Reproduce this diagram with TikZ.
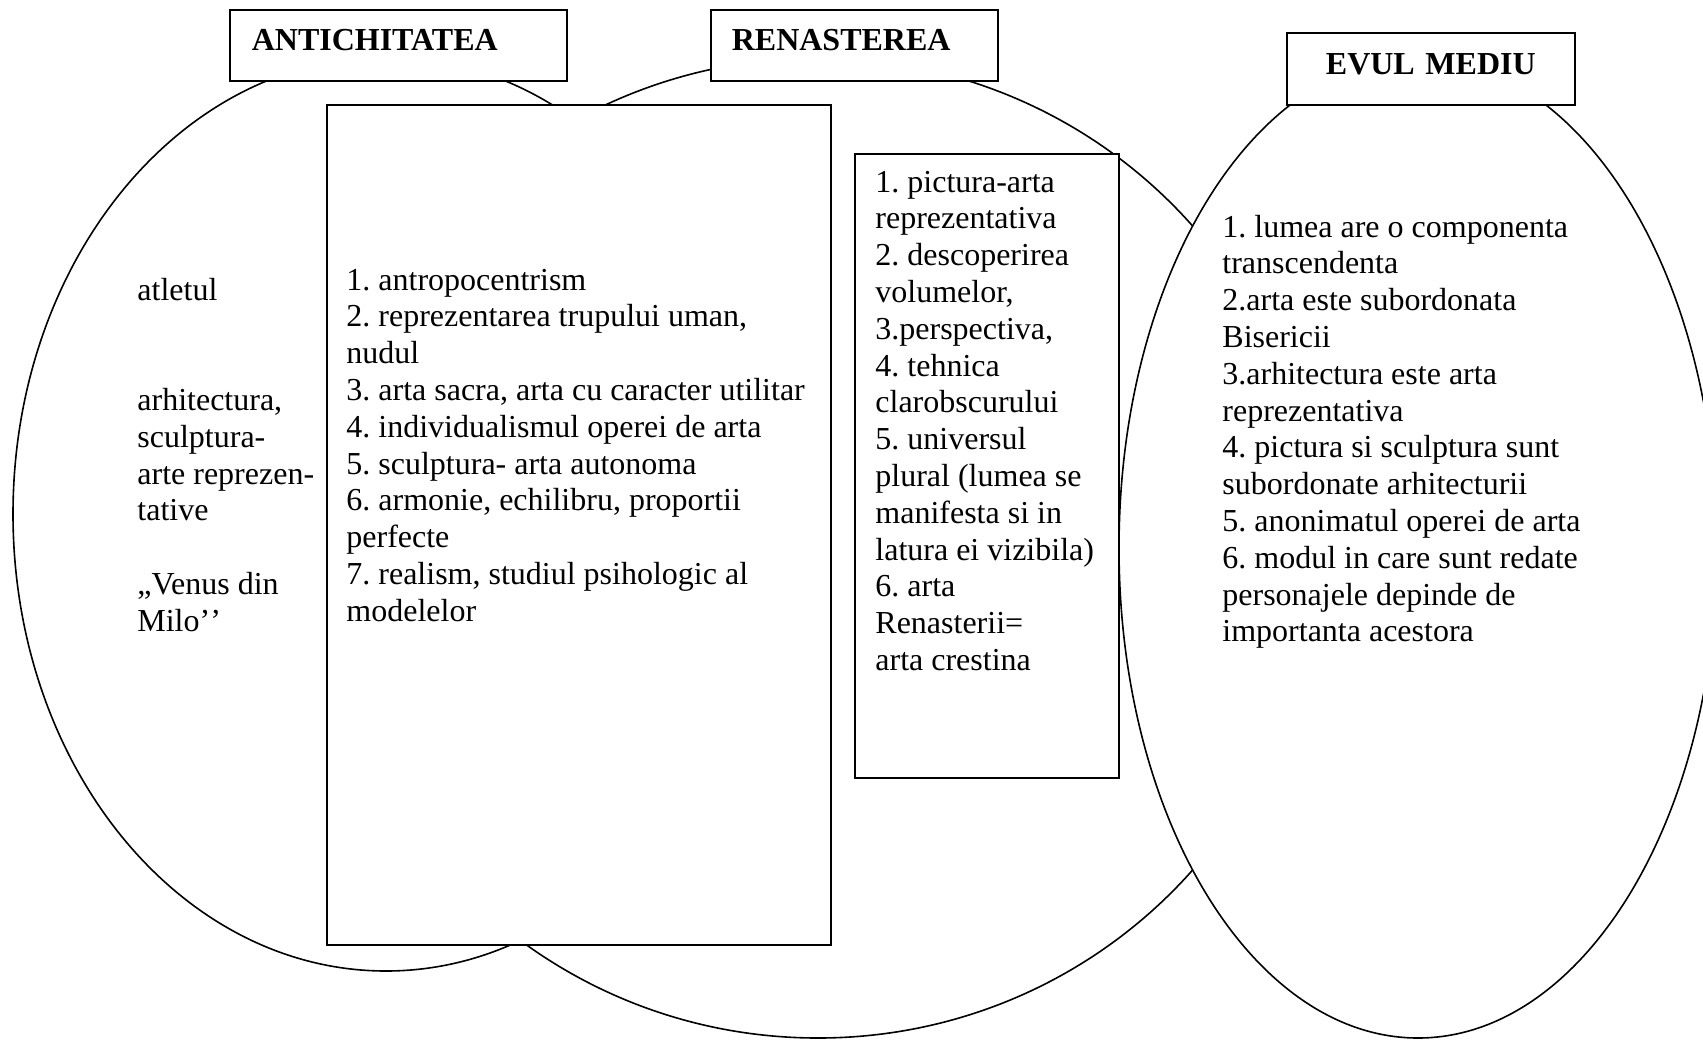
\documentclass[tikz,border=0pt]{standalone}
\usepackage{fontspec}
\setmainfont{Liberation Serif}
\usepackage{tikz}

\begin{document}
\begin{tikzpicture}[x=0.5pt,y=-0.5pt,
  venn/.style={draw,fill=white,line width=0.8pt},
  titlebox/.style={draw,fill=white,line width=0.8pt,anchor=north west,inner ysep=0pt,
    text height=20.5pt,text depth=15pt,font=\fontsize{16}{18.4}\selectfont\bfseries},
  listbox/.style={draw,fill=white,line width=0.8pt,anchor=north west,inner sep=0pt},
  txt/.style={anchor=north west,inner sep=0pt,align=left,
    font=\fontsize{16}{18.4}\selectfont\frenchspacing}]
\useasboundingbox (0,0) rectangle (1703,1040);
\draw[venn] (818,548) ellipse [x radius=248.5pt,y radius=245pt];
\draw[venn] (386,514) ellipse [x radius=186.5pt,y radius=228.5pt];
\draw[venn] (1418,548) ellipse [x radius=149.5pt,y radius=245pt];
\node[titlebox,text width=146.5pt,inner xsep=11pt,align=left] (antic) at (229,9) {ANTICHITATEA};
\node[titlebox,text width=122.5pt,inner xsep=10.5pt,align=left] (renast) at (710,9) {RENASTEREA};
\node[titlebox,text width=144pt,inner xsep=0pt,align=center,text height=21pt] (evul) at (1286,32) {EVUL MEDIU};
\node[listbox,minimum width=252pt,minimum height=420pt] (antbox) at (326,104) {};
\node[listbox,minimum width=132pt,minimum height=312pt] (renbox) at (854,153) {};
\node[txt] (antleft) at (137,274) {\strut atletul\\[2\baselineskip] arhitectura,\\ sculptura-\\ arte reprezen-\\ tative\\[\baselineskip] „Venus din\\ Milo’\kern0pt’};
\node[txt] (antlist) at (346,264) {\strut 1. antropocentrism\\ 2. reprezentarea trupului uman,\\ nudul\\ 3. arta sacra, arta cu caracter utilitar\\ 4. individualismul operei de arta\\ 5. sculptura- arta autonoma\\ 6. armonie, echilibru, proportii\\ perfecte\\ 7. realism, studiul psihologic al\\ modelelor};
\node[txt] (renlist) at (875,166) {\strut 1. pictura-arta\\ reprezentativa\\ 2. descoperirea\\ volumelor,\\ 3.perspectiva,\\ 4. tehnica\\ clarobscurului\\ 5. universul\\ plural (lumea se\\ manifesta si in\\ latura ei vizibila)\\ 6. arta\\ Renasterii=\\ arta crestina};
\node[txt] (evullist) at (1222,211) {\strut 1. lumea are o componenta\\ transcendenta\\ 2.arta este subordonata\\ Bisericii\\ 3.arhitectura este arta\\ reprezentativa\\ 4. pictura si sculptura sunt\\ subordonate arhitecturii\\ 5. anonimatul operei de arta\\ 6. modul in care sunt redate\\ personajele depinde de\\ importanta acestora};
\end{tikzpicture}
\end{document}
